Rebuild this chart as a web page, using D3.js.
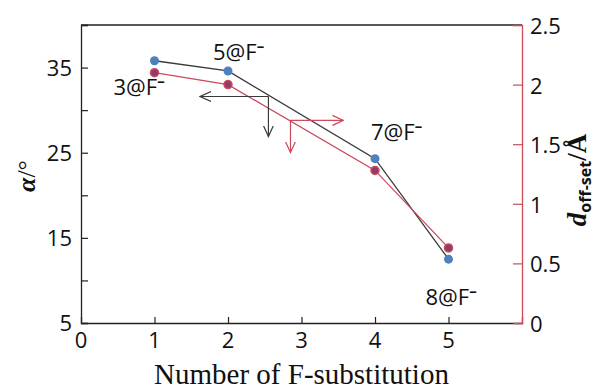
<!DOCTYPE html>
<html>
<head>
<meta charset="utf-8">
<script src="https://cdn.jsdelivr.net/npm/d3@7"></script>
<style>
  body { margin: 0; background: #fff; }
  svg { display: block; }
</style>
</head>
<body>
<script>
// data
const nF = [1, 2, 4, 5]
const alpha = [35.8, 34.6, 24.3, 12.5]
const dOff = [2.10, 2.00, 1.28, 0.63]
const pointLabels = ["3@F", "5@F", "7@F", "8@F"]
const xTicks = [0, 1, 2, 3, 4, 5]
const yLeftTicks = [5, 10, 15, 20, 25, 30, 35, 40]
const yLeftLabels = [5, 15, 25, 35]
const yRightTicks = [0, 0.5, 1, 1.5, 2, 2.5]
// direction arrows: [corner x, corner y, horizontal end x, vertical end y]
const alphaArrow = [2.55, 31.6, 1.62, 26.9]
const dArrow = [2.85, 1.70, 3.57, 1.43]

const W = 599, H = 390
const margin = { top: 25, right: 77, bottom: 67, left: 81 },
    width = W - margin.left - margin.right,
    height = H - margin.top - margin.bottom

const black = "#3a3a3a", red = "#cc4a5a", blue = "#4f81bd", plum = "#8e3c6e"
const sans = "'Open Sans', sans-serif", serif = "'Liberation Serif', serif"

const x = d3.scaleLinear().domain([0, 6]).range([0, width])
const yL = d3.scaleLinear().domain([5, 40]).range([height, 0])
const yR = d3.scaleLinear().domain([0, 2.5]).range([height, 0])

const svg = d3.select("body").append("svg")
    .attr("width", W).attr("height", H)
const g = svg.append("g")
    .attr("transform", "translate(" + margin.left + "," + margin.top + ")")

// frame top
g.append("line").attr("x1", 0).attr("x2", width).attr("y1", 0).attr("y2", 0)
    .attr("stroke", "#222").attr("stroke-width", 1.3)

// x axis
const xa = g.append("g").attr("transform", "translate(0," + height + ")")
    .call(d3.axisTop(x).tickValues(xTicks).tickSize(6).tickFormat(""))
xa.select(".domain").attr("stroke", "#222").attr("stroke-width", 1.3)
xa.selectAll(".tick line").attr("stroke", "#222").attr("stroke-width", 1.2)
    .filter(d => d === 0).remove()
g.append("g").selectAll("text").data(xTicks).join("text")
    .attr("x", d => x(d)).attr("y", height + 25)
    .attr("text-anchor", "middle")
    .style("font-family", sans).style("font-size", "22px").attr("fill", "#111")
    .text(d => d)

// left axis
const la = g.append("g")
    .call(d3.axisRight(yL).tickValues(yLeftTicks).tickSize(7).tickFormat(""))
la.select(".domain").attr("stroke", "#222").attr("stroke-width", 1.3)
la.selectAll(".tick line").attr("stroke", "#222").attr("stroke-width", 1.2)
g.append("g").selectAll("text").data(yLeftLabels).join("text")
    .attr("x", -9).attr("y", d => yL(d) + 8)
    .attr("text-anchor", "end")
    .style("font-family", sans).style("font-size", "22px").attr("fill", "#111")
    .text(d => d)

// right axis
const ra = g.append("g").attr("transform", "translate(" + width + ",0)")
    .call(d3.axisLeft(yR).tickValues(yRightTicks).tickSize(9).tickFormat(""))
ra.select(".domain").attr("stroke", red).attr("stroke-width", 1.3)
ra.selectAll(".tick line").attr("stroke", red).attr("stroke-width", 1.2)
g.append("g").selectAll("text").data(yRightTicks).join("text")
    .attr("x", width + 8).attr("y", d => yR(d) + 9)
    .attr("text-anchor", "start")
    .style("font-family", sans).style("font-size", "22px").attr("fill", "#111")
    .text(d => d)

// lines
const alphaData = nF.map((n, i) => ({ n: n, v: alpha[i] }))
const dData = nF.map((n, i) => ({ n: n, v: dOff[i] }))

g.append("path").datum(alphaData)
    .attr("d", d3.line().x(d => x(d.n)).y(d => yL(d.v)))
    .attr("fill", "none").attr("stroke", black).attr("stroke-width", 1.3)
g.append("path").datum(dData)
    .attr("d", d3.line().x(d => x(d.n)).y(d => yR(d.v)))
    .attr("fill", "none").attr("stroke", red).attr("stroke-width", 1.3)

g.append("g").selectAll("circle").data(alphaData).join("circle")
    .attr("cx", d => x(d.n)).attr("cy", d => yL(d.v)).attr("r", 4.5)
    .attr("fill", blue)
g.append("g").selectAll("circle").data(dData).join("circle")
    .attr("cx", d => x(d.n)).attr("cy", d => yR(d.v)).attr("r", 4)
    .attr("fill", plum).attr("stroke", red).attr("stroke-width", 1.5)

// arrows
const defs = svg.append("defs")
function marker(id, color) {
    defs.append("marker").attr("id", id)
        .attr("viewBox", "0 -6 12 12").attr("refX", 11).attr("refY", 0)
        .attr("markerWidth", 12).attr("markerHeight", 12)
        .attr("markerUnits", "userSpaceOnUse").attr("orient", "auto")
        .append("path").attr("d", "M0,-5L11,0L0,5")
        .attr("fill", "none").attr("stroke", color).attr("stroke-width", 1.2)
}
marker("arrK", black)
marker("arrR", red)

function arrow(a, yScale, color, id) {
    const cx = x(a[0]), cy = yScale(a[1])
    g.append("line").attr("x1", cx).attr("y1", cy).attr("x2", x(a[2])).attr("y2", cy)
        .attr("stroke", color).attr("stroke-width", 1.2).attr("marker-end", "url(#" + id + ")")
    g.append("line").attr("x1", cx).attr("y1", cy).attr("x2", cx).attr("y2", yScale(a[3]))
        .attr("stroke", color).attr("stroke-width", 1.2).attr("marker-end", "url(#" + id + ")")
}
arrow(alphaArrow, yL, black, "arrK")
arrow(dArrow, yR, red, "arrR")

// point labels
const labelOffsets = [[-41, 34], [-15, -11], [-4, -19], [-23, 46]]
const pl = g.append("g").selectAll("text").data(pointLabels).join("text")
    .attr("x", (d, i) => x(nF[i]) + labelOffsets[i][0])
    .attr("y", (d, i) => yL(alpha[i]) + labelOffsets[i][1])
    .style("font-family", sans).style("font-size", "22px").attr("fill", "#111")
pl.append("tspan").text(d => d)
pl.append("tspan").attr("dy", -9).style("font-size", "15px").style("font-weight", "bold").text("\u2013")

// axis titles
svg.append("text")
    .attr("x", margin.left + width / 2).attr("y", H - 6)
    .attr("text-anchor", "middle")
    .style("font-family", serif).style("font-size", "29px").attr("fill", "#111")
    .text("Number of F-substitution")

const lt = svg.append("text")
    .attr("transform", "translate(35,176) rotate(-90)")
    .attr("text-anchor", "middle")
    .style("font-family", serif).style("font-size", "26px").attr("fill", "#111")
lt.append("tspan").style("font-weight", "bold").style("font-style", "italic").text("\u03b1")
lt.append("tspan").text("/\u00b0")

const rt = svg.append("text")
    .attr("transform", "translate(586,180) rotate(-90)")
    .attr("text-anchor", "middle")
    .style("font-family", serif).style("font-size", "27px").attr("fill", "#111")
rt.append("tspan").style("font-weight", "bold").style("font-style", "italic").text("d")
rt.append("tspan").attr("dy", 5).style("font-family", sans).style("font-weight", "bold")
    .style("font-size", "16px").text("off-set")
rt.append("tspan").attr("dy", -5).style("font-weight", "bold").text("/\u00c5")
</script>
</body>
</html>
